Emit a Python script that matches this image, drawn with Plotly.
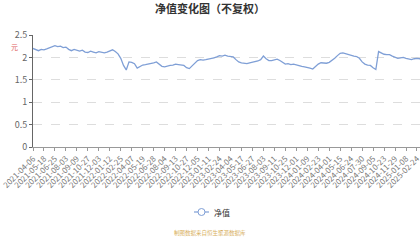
import plotly.graph_objects as go

tick_dates = [
    "2021-04-06", "2021-05-18", "2021-06-25", "2021-08-03", "2021-09-09", "2021-10-27",
    "2021-12-03", "2022-01-12", "2022-02-25", "2022-04-07", "2022-05-19", "2022-06-28",
    "2022-08-04", "2022-09-13", "2022-10-27", "2022-12-05", "2023-01-11", "2023-02-24",
    "2023-04-04", "2023-05-17", "2023-06-27", "2023-08-03", "2023-09-11", "2023-10-25",
    "2023-12-01", "2024-01-09", "2024-02-23", "2024-04-01", "2024-05-15", "2024-06-24",
    "2024-07-30", "2024-09-05", "2024-10-23", "2024-11-29", "2025-01-08", "2025-02-24",
    "2025-04-02",
]

dates = [
    "2021-04-06", "2021-04-16", "2021-04-27", "2021-05-10",
    "2021-05-18", "2021-05-27", "2021-06-04", "2021-06-16",
    "2021-06-25", "2021-07-05", "2021-07-14", "2021-07-23",
    "2021-08-03", "2021-08-12", "2021-08-20", "2021-08-31",
    "2021-09-09", "2021-09-16", "2021-09-28", "2021-10-15",
    "2021-10-27", "2021-11-04", "2021-11-12", "2021-11-22",
    "2021-12-03", "2021-12-10", "2021-12-20", "2021-12-29",
    "2022-01-12", "2022-01-20", "2022-01-28", "2022-02-16",
    "2022-02-25", "2022-03-07", "2022-03-16", "2022-03-25",
    "2022-04-07", "2022-04-18", "2022-04-27", "2022-05-10",
    "2022-05-19", "2022-05-27", "2022-06-08", "2022-06-17",
    "2022-06-28", "2022-07-07", "2022-07-18", "2022-07-27",
    "2022-08-04", "2022-08-12", "2022-08-23", "2022-09-01",
    "2022-09-13", "2022-09-21", "2022-09-29", "2022-10-18",
    "2022-10-27", "2022-11-04", "2022-11-14", "2022-11-23",
    "2022-12-05", "2022-12-13", "2022-12-21", "2022-12-30",
    "2023-01-11", "2023-01-19", "2023-02-07", "2023-02-15",
    "2023-02-24", "2023-03-06", "2023-03-14", "2023-03-23",
    "2023-04-04", "2023-04-13", "2023-04-21", "2023-05-05",
    "2023-05-17", "2023-05-25", "2023-06-05", "2023-06-14",
    "2023-06-27", "2023-07-06", "2023-07-17", "2023-07-25",
    "2023-08-03", "2023-08-11", "2023-08-21", "2023-08-30",
    "2023-09-11", "2023-09-19", "2023-09-27", "2023-10-16",
    "2023-10-25", "2023-11-02", "2023-11-10", "2023-11-21",
    "2023-12-01", "2023-12-11", "2023-12-19", "2023-12-28",
    "2024-01-09", "2024-01-17", "2024-01-25", "2024-02-02",
    "2024-02-23", "2024-03-04", "2024-03-12", "2024-03-21",
    "2024-04-01", "2024-04-11", "2024-04-22", "2024-05-06",
    "2024-05-15", "2024-05-23", "2024-05-31", "2024-06-12",
    "2024-06-24", "2024-07-02", "2024-07-11", "2024-07-19",
    "2024-07-30", "2024-08-07", "2024-08-16", "2024-08-26",
    "2024-09-05", "2024-09-13", "2024-09-24", "2024-10-14",
    "2024-10-23", "2024-10-31", "2024-11-11", "2024-11-20",
    "2024-11-29", "2024-12-09", "2024-12-18", "2024-12-27",
    "2025-01-08", "2025-01-16", "2025-01-24", "2025-02-12",
    "2025-02-24", "2025-03-05", "2025-03-13", "2025-03-24",
    "2025-04-02",
]

nav = [
    2.20, 2.17, 2.15, 2.18, 2.17, 2.19, 2.21, 2.23, 2.26, 2.24,
    2.25, 2.22, 2.23, 2.18, 2.15, 2.18, 2.16, 2.14, 2.16, 2.12,
    2.11, 2.14, 2.12, 2.10, 2.13, 2.12, 2.10, 2.12, 2.14, 2.17,
    2.13, 2.08, 1.98, 1.82, 1.72, 1.90, 1.89, 1.86, 1.76, 1.80,
    1.83, 1.84, 1.85, 1.87, 1.88, 1.90, 1.85, 1.80, 1.79, 1.81,
    1.82, 1.83, 1.85, 1.84, 1.83, 1.82, 1.77, 1.75, 1.81, 1.86,
    1.93, 1.95, 1.94, 1.95, 1.96, 1.97, 1.99, 2.01, 2.04, 2.03,
    2.05, 2.03, 2.02, 2.01, 1.95, 1.90, 1.88, 1.87, 1.86, 1.88,
    1.89, 1.90, 1.92, 1.95, 2.03, 1.97, 1.93, 1.93, 1.95, 1.96,
    1.93, 1.89, 1.85, 1.86, 1.84, 1.85, 1.83, 1.81, 1.80, 1.79,
    1.78, 1.76, 1.74, 1.80, 1.85, 1.88, 1.87, 1.87, 1.89, 1.93,
    1.98, 2.04, 2.09, 2.10, 2.08, 2.06, 2.04, 2.03, 2.02, 1.98,
    1.90, 1.85, 1.83, 1.82, 1.77, 1.73, 2.13, 2.09, 2.07, 2.06,
    2.06, 2.03, 2.00, 1.98, 1.99, 2.00, 1.98, 1.96, 1.95, 1.97,
    1.98, 1.97, 1.96, 1.97, 1.98,
]

series_name = "净值"
title_text = "净值变化图（不复权）"
unit_text = "元"
source_text = "制图数据来自恒生聚源数据库"

LINE = "#7f9fd6"
FONT = "Noto Sans CJK SC"
W, H = 420, 240
L, R, T, B = 33, 0, 35, 93
PW, PH = W - L - R, H - T - B


def px(x):
    return (x - L) / PW


def py(y):
    return 1 - (y - T) / PH


fig = go.Figure()
fig.add_trace(go.Scatter(
    x=dates, y=nav, mode="lines", name=series_name,
    line=dict(color=LINE, width=1.3), showlegend=False,
))

fig.update_layout(
    width=W, height=H,
    margin=dict(l=L, r=R, t=T, b=B, autoexpand=False),
    paper_bgcolor="white", plot_bgcolor="white",
    font=dict(family=FONT, color="#666", size=9),
    title=dict(text="<b>" + title_text + "</b>", x=0.5, xanchor="center",
               y=1 - 9 / H, yanchor="middle", yref="container",
               font=dict(size=11, color="#333", family=FONT)),
    showlegend=False,
)

fig.update_xaxes(
    type="category", categoryorder="array", categoryarray=dates,
    range=[0, 141.1], automargin=False,
    tickmode="array", tickvals=tick_dates, ticktext=tick_dates,
    tickangle=-45, tickfont=dict(size=8, color="#777"),
    showline=True, linecolor="#999", linewidth=1,
    ticks="outside", ticklen=3, tickcolor="#999",
    showgrid=False, zeroline=False,
)
fig.update_yaxes(
    range=[0, 2.5], dtick=0.5, tick0=0, automargin=False,
    tickfont=dict(size=9, color="#666"),
    showline=True, linecolor="#666", linewidth=1,
    ticks="outside", ticklen=3, tickcolor="#666",
    showgrid=True, gridcolor="#ddd", griddash="dash", gridwidth=1,
    zeroline=False,
)

# unit label
fig.add_annotation(text=unit_text, xref="paper", yref="paper",
                   x=px(14), y=py(47), xanchor="center", yanchor="middle",
                   showarrow=False, font=dict(size=7, color="#e06060"))

# custom legend (short line with hollow circle)
fig.add_shape(type="line", xref="paper", yref="paper",
              x0=px(194), x1=px(209), y0=py(212), y1=py(212),
              line=dict(color=LINE, width=1.2))
fig.add_shape(type="circle", xref="paper", yref="paper",
              x0=px(198), x1=px(205), y0=py(215.5), y1=py(208.5),
              line=dict(color=LINE, width=1), fillcolor="white")
fig.add_annotation(text=series_name, xref="paper", yref="paper",
                   x=px(212), y=py(212), xanchor="left", yanchor="middle",
                   showarrow=False, font=dict(size=8, color="#333"))

# source footer
fig.add_annotation(text=source_text, xref="paper", yref="paper",
                   x=px(210), y=py(233), xanchor="center", yanchor="middle",
                   showarrow=False, font=dict(size=5.5, color="#d8b060"))

fig.write_html("out.html")
